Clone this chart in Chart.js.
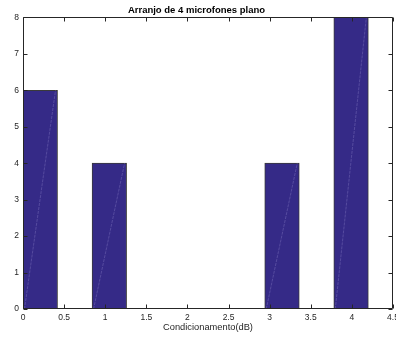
<!DOCTYPE html>
<html>
<head>
<meta charset="utf-8">
<script src="https://cdn.jsdelivr.net/npm/chart.js@4/dist/chart.umd.min.js"></script>
<style>
html,body{margin:0;padding:0;background:#fff;overflow:hidden;}
#wrap{width:396px;height:342px;overflow:hidden;position:relative;}
canvas{display:block;}
</style>
</head>
<body>
<div id="wrap"><canvas id="c" width="400" height="342" style="width:400px;height:342px"></canvas></div>
<script>
// Histogram bins (centers) and counts
const binCenters = [0.21, 0.63, 1.05, 1.47, 1.89, 2.31, 2.73, 3.15, 3.57, 3.99];
const counts     = [6, 0, 4, 0, 0, 0, 0, 4, 0, 8];
const xTicks = [0, 0.5, 1, 1.5, 2, 2.5, 3, 3.5, 4, 4.5];
const yTicks = [0, 1, 2, 3, 4, 5, 6, 7, 8];
const titleText = 'Arranjo de 4 microfones plano';
const xLabel = 'Condicionamento(dB)';

const FONT = '"Liberation Sans", Arial, Helvetica, sans-serif';
const TXT = '#262626';

const boxTicks = {
  id: 'boxTicks',
  afterDraw(chart) {
    const ctx = chart.ctx, a = chart.chartArea;
    const xs = chart.scales.x, ys = chart.scales.y;
    // diagonal artifact lines inside bars
    ctx.save();
    ctx.strokeStyle = 'rgba(160,150,215,0.6)';
    ctx.lineWidth = 0.5;
    ctx.setLineDash([3, 1]);
    chart.getDatasetMeta(0).data.forEach((bar, i) => {
      if (!counts[i]) return;
      const l = bar.x - bar.width / 2, r = bar.x + bar.width / 2;
      ctx.beginPath();
      ctx.moveTo(l + 1.5, bar.base);
      ctx.lineTo(r - 2, bar.y);
      ctx.stroke();
    });
    ctx.restore();
    // box + inward ticks
    ctx.save();
    ctx.strokeStyle = '#262626';
    ctx.lineWidth = 1;
    const L = Math.round(a.left) + 0.5, R = Math.round(a.right) - 0.5;
    const T = Math.round(a.top) + 0.5, B = Math.round(a.bottom) - 0.5;
    ctx.beginPath();
    ctx.rect(L, T, R - L, B - T);
    const tl = 4;
    xTicks.forEach(v => {
      const px = Math.round(xs.getPixelForValue(v)) + 0.5;
      ctx.moveTo(px, B); ctx.lineTo(px, B - tl);
      ctx.moveTo(px, T); ctx.lineTo(px, T + tl);
    });
    yTicks.forEach(v => {
      const py = Math.round(ys.getPixelForValue(v)) + 0.5;
      ctx.moveTo(L, py); ctx.lineTo(L + tl, py);
      ctx.moveTo(R, py); ctx.lineTo(R - tl, py);
    });
    ctx.stroke();
    ctx.restore();
  }
};

new Chart(document.getElementById('c'), {
  type: 'bar',
  data: {
    datasets: [{
      data: binCenters.map((x, i) => ({x: x, y: counts[i]})),
      backgroundColor: '#352a87',
      borderColor: '#3a3a3a',
      borderWidth: {top: 1, left: 1, right: 1, bottom: 0},
      barPercentage: 1,
      categoryPercentage: 1
    }]
  },
  options: {
    responsive: false,
    animation: false,
    layout: {padding: {top: 0, right: 7, bottom: 0, left: 0}},
    plugins: {
      legend: {display: false},
      tooltip: {enabled: false},
      title: {
        display: true, text: titleText, color: '#000',
        font: {family: FONT, size: 9.5, weight: 'bold'},
        padding: {top: 5, bottom: 1}
      }
    },
    scales: {
      x: {
        type: 'linear', min: 0, max: 4.5, offset: false,
        grid: {display: false, drawTicks: false},
        border: {display: false},
        afterBuildTicks: s => { s.ticks = xTicks.map(v => ({value: v})); },
        afterFit: s => { s.paddingRight = 0; s.paddingLeft = 0; s.height = 33; },
        ticks: {color: TXT, font: {family: FONT, size: 8.5}, padding: 4, maxRotation: 0, autoSkip: false,
                callback: v => String(v)},
        title: {display: true, text: xLabel, color: TXT, font: {family: FONT, size: 9.3}, padding: {top: 0, bottom: 9}}
      },
      y: {
        min: 0, max: 8,
        grid: {display: false, drawTicks: false},
        border: {display: false},
        afterBuildTicks: s => { s.ticks = yTicks.map(v => ({value: v})); },
        afterFit: s => { s.width = 23; },
        ticks: {color: TXT, font: {family: FONT, size: 8.5}, padding: 4}
      }
    }
  },
  plugins: [boxTicks]
});
</script>
</body>
</html>
